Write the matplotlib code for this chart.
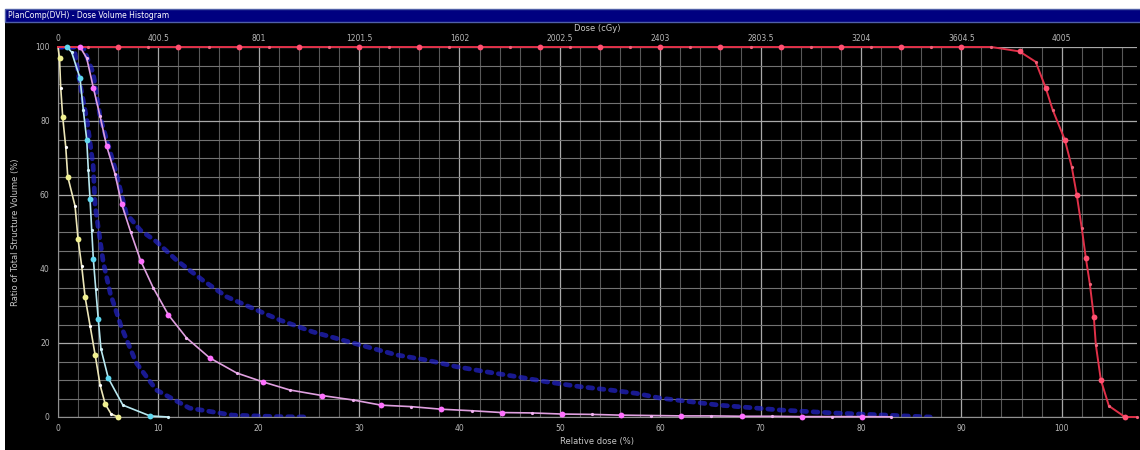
# Dose volume histogram -- recreated from a PlanComp screenshot

import matplotlib
matplotlib.use('Agg')
import matplotlib.pyplot as plt
from matplotlib.patches import Rectangle
from matplotlib.ticker import MultipleLocator

# ---- data (relative dose in %, volume in %) ----
red_dose = [0, 3, 6, 9, 12, 15, 18, 21, 24, 27, 30, 33, 36, 39, 42, 45, 48, 51,
            54, 57, 60, 63, 66, 69, 72, 75, 78, 81, 84, 87, 90, 93,
            95.8, 97.4, 98.4, 99.1, 100.3, 101.0, 101.5, 102.0, 102.4, 102.8,
            103.2, 103.4, 103.9, 104.7, 106.3, 107.5]
red_vol = [100] * 32 + [98.8, 96, 89, 83, 75, 67.6, 60, 51, 43, 36,
                        27, 19.5, 10, 3, 0, 0]

yellow_dose = [0, 0.15, 0.27, 0.47, 0.77, 0.97, 1.7, 2.0, 2.36, 2.7, 3.2, 3.7,
               4.2, 4.7, 5.3, 6.0]
yellow_vol = [100, 97, 89, 81, 73, 65, 57, 48, 40.8, 32.4, 24.6, 16.8,
              8.6, 3.5, 0.8, 0]

cyan_dose = [0, 0.9, 1.36, 2.19, 2.52, 2.86, 3.02, 3.19, 3.36, 3.52, 3.76,
             4.01, 4.28, 5.01, 6.47, 9.16, 11.0]
cyan_vol = [100, 100, 98.6, 91.6, 83, 75, 66.8, 59, 50.5, 42.7, 34.6,
            26.5, 18.4, 10.5, 3.2, 0.3, 0]

magenta_dose = [0, 2.2, 2.86, 3.52, 4.18, 4.85, 5.68, 6.34, 7.24, 8.24, 9.49,
                11.0, 12.8, 15.1, 17.8, 20.4, 23.1, 26.3, 29.4, 32.2, 35.2,
                38.2, 41.2, 44.2, 47.2, 50.2, 53.2, 56.1, 59.1, 62.1, 65.1,
                68.1, 71.1, 74.1, 77.1, 80.1, 83.0]
magenta_vol = [100, 100, 97, 89, 81.4, 73.2, 65.7, 57.6, 50, 42.2, 34.9,
               27.6, 21.4, 16, 11.9, 9.5, 7.3, 5.8, 4.6, 3.2, 2.8,
               2.1, 1.7, 1.2, 1.1, 0.8, 0.7, 0.5, 0.4, 0.3, 0.3,
               0.2, 0.2, 0.1, 0.1, 0.1, 0.05]

blueA_dose = [0, 1.6, 2.2, 2.9, 3.5, 3.7, 4.5, 5.2, 6.3, 7.8, 9.8, 13.1,
              17.4, 22, 25]
blueA_vol = [100, 100, 90, 80, 68, 57, 42, 33.5, 24.4, 14.6, 7.3, 2.4,
             0.5, 0.1, 0]

blueB_dose = [0, 2.5, 3.5, 4.2, 5.7, 6.8, 8.2, 9.8, 11.8, 14.4, 16.8, 19.8, 22.1,
              25.4, 29.4, 33.7, 36.7, 39.7, 42.7, 45.7, 48.7, 52.0, 55.0,
              57.6, 60.0, 65.9, 71.9, 77.2, 82.6, 86.9]
blueB_vol = [100, 100, 93, 81, 67, 55, 50.5, 47.4, 42.4, 37, 32.5, 28.9, 26.2,
             23, 20, 16.8, 15.4, 13.6, 12.2, 10.9, 9.5, 8.2, 7.3,
             6.4, 5.1, 3.2, 1.9, 1.1, 0.5, 0]

x_ticks = [0, 10, 20, 30, 40, 50, 60, 70, 80, 90, 100]
y_ticks = [0, 20, 40, 60, 80, 100]
cgy_labels = ['0', '400.5', '801', '1201.5', '1602', '2002.5', '2403',
              '2803.5', '3204', '3604.5', '4005']

# ---- figure ----
fig = plt.figure(figsize=(11.4, 4.5), dpi=100, facecolor='white')

# window frame: black panel and navy title bar (behind the axes)
fig.patches.append(Rectangle((5 / 1140, 0), 1, 1 - 22 / 450, transform=fig.transFigure,
                             facecolor='black', edgecolor='none', zorder=-10))
fig.patches.append(Rectangle((5 / 1140, 1 - 22 / 450), 1, 13 / 450, transform=fig.transFigure,
                             facecolor='#000080', edgecolor='#5060a8', lw=1, zorder=-10))
fig.text(8 / 1140, 1 - 16 / 450, 'PlanComp(DVH) - Dose Volume Histogram',
         color='white', fontsize=5.5, va='center', ha='left')

ax = fig.add_axes([58 / 1140, 1 - 417 / 450, 1079 / 1140, 370 / 450])
ax.set_facecolor('black')
ax.set_xlim(0, 107.5)
ax.set_ylim(0, 100)

# grid
ax.xaxis.set_major_locator(MultipleLocator(10))
ax.xaxis.set_minor_locator(MultipleLocator(2))
ax.yaxis.set_major_locator(MultipleLocator(20))
ax.yaxis.set_minor_locator(MultipleLocator(5))
ax.grid(which='major', color='#a8a8a8', lw=0.9)
ax.grid(which='minor', axis='x', color='#585858', lw=0.8)
ax.grid(which='minor', axis='y', color='#727272', lw=0.8)
ax.set_axisbelow(True)

for side in ['top', 'right']:
    ax.spines[side].set_visible(False)
for side in ['left', 'bottom']:
    ax.spines[side].set_color('#909090')

ax.set_xticks(x_ticks)
ax.set_yticks(y_ticks)
ax.tick_params(which='both', length=0, colors='#b8b8b8', labelsize=5.5)
ax.tick_params(axis='x', pad=5)
ax.tick_params(axis='y', pad=6)
ax.set_xlabel('Relative dose (%)', color='#c8c8c8', fontsize=6, labelpad=3)
ax.set_ylabel('Ratio of Total Structure Volume (%)', color='#c8c8c8', fontsize=6, labelpad=11)

top = ax.secondary_xaxis('top', functions=(lambda d: d * 40.05, lambda c: c / 40.05))
top.set_xticks([float(s) for s in cgy_labels])
top.set_xticklabels(cgy_labels)
top.tick_params(length=0, colors='#b8b8b8', labelsize=5.5, pad=3)
top.spines['top'].set_visible(False)
top.set_xlabel('Dose (cGy)', color='#c8c8c8', fontsize=6, labelpad=2)


def draw_curve(xs, ys, line_c, big_c, small_c, lw=1.2, first_big=1):
    ax.plot(xs, ys, '-', color=line_c, lw=lw, clip_on=False, zorder=3)
    other = 2 if first_big == 1 else 1
    ax.plot(xs[first_big::2], ys[first_big::2], 'o', color=big_c, ms=4.2, mec='none',
            clip_on=False, zorder=4)
    ax.plot(xs[other::2], ys[other::2], 'o', color=small_c, ms=2.3, mec='none',
            clip_on=False, zorder=4)


# blue structures drawn as thick dotted bands underneath
for bx, by in [(blueA_dose, blueA_vol), (blueB_dose, blueB_vol)]:
    ax.plot(bx, by, color='#2424d0', lw=3.4, ls=(0, (1.0, 1.4)), alpha=0.7,
            dash_capstyle='round', zorder=2)

draw_curve(magenta_dose, magenta_vol, '#e0a0e0', '#ff70ff', '#f0b0f0')
draw_curve(cyan_dose, cyan_vol, '#b8e8f0', '#60d8f0', '#d0f0f8')
draw_curve(yellow_dose, yellow_vol, '#ece6b8', '#f0f090', '#ffffff')
draw_curve(red_dose, red_vol, '#e03048', '#ff5070', '#f06078', lw=1.4, first_big=2)

fig.savefig('out.png', dpi=100, facecolor=fig.get_facecolor())
